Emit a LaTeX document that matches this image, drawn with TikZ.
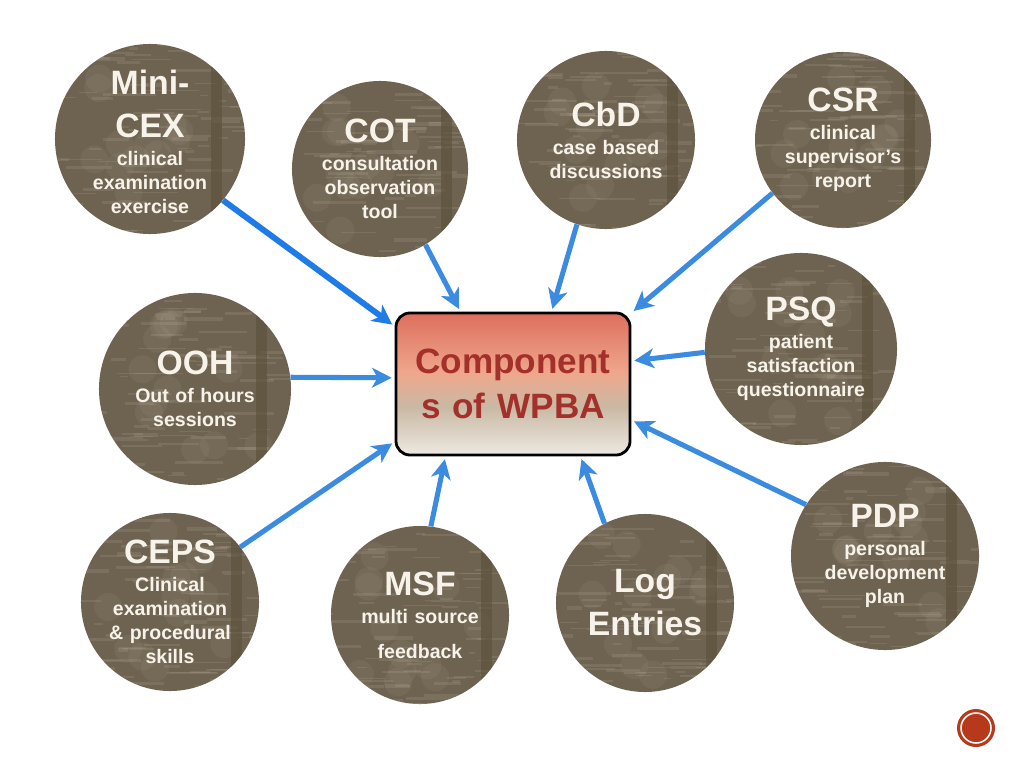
\documentclass[tikz,border=0pt]{standalone}
\usepackage{fontspec}
\setmainfont{Liberation Sans}
\usetikzlibrary{arrows.meta,calc}
\setlength\parindent{0pt}

\definecolor{discbrown}{HTML}{6E6350}
\definecolor{discdark}{HTML}{5A4F3A}
\definecolor{grit}{HTML}{D4CBB8}
\definecolor{disctext}{HTML}{F7F3EA}
\definecolor{arrowblue}{HTML}{3B8CE0}
\definecolor{arrowdeep}{HTML}{1F7BE6}
\definecolor{hubtop}{HTML}{DE6E5E}
\definecolor{hubpeach}{HTML}{EFA78C}
\definecolor{hubtan}{HTML}{C9B9A3}
\definecolor{hubbot}{HTML}{EDE9E2}
\definecolor{hubtext}{HTML}{A3302A}
\definecolor{badge}{HTML}{B5391A}

\pgfdeclareverticalshading{hubshade}{100bp}{color(0bp)=(hubbot); color(25bp)=(hubbot); color(42bp)=(hubtan); color(54bp)=(hubpeach); color(75bp)=(hubtop); color(100bp)=(hubtop)}

\newcommand\discttl{\fontsize{24}{30.6}\selectfont}
\newcommand\discsub{\fontsize{13.9}{17}\selectfont}

\tikzset{
  disc/.style={circle, fill=discbrown, inner sep=0pt, minimum size=#1,
    path picture={
      \foreach \k in {1,...,90}{
        \pgfmathsetmacro\sx{rand*2.5}
        \pgfmathsetmacro\sy{rand*2.5}
        \pgfmathsetmacro\sw{0.15+rnd*1.2}
        \pgfmathsetmacro\sh{0.02+rnd*0.07}
        \fill[grit, opacity=0.13] ([shift={(\sx cm,\sy cm)}]path picture bounding box.center) rectangle ++(\sw cm,\sh cm);
      }
      \foreach \k in {1,...,12}{
        \pgfmathsetmacro\sx{rand*1.6}
        \pgfmathsetmacro\sy{rand*1.8}
        \fill[grit, opacity=0.07] ([shift={(\sx cm,\sy cm)}]path picture bounding box.center) circle (0.35cm);
      }
      \fill[discdark, opacity=0.6] ([shift={(1.52cm,-3cm)}]path picture bounding box.center) rectangle ++(0.28cm,6cm);
    }},
  disclabel/.style={text=disctext, font=\bfseries\discsub, align=center, text width=4cm, inner sep=0pt},
  feed/.style={draw=arrowblue, line width=3.6pt, -{Stealth[length=14pt,width=14pt,inset=4pt]}, shorten >=2pt},
  hub/.style={draw=black, line width=2pt, rounded corners=0.35cm, shading=hubshade,
    minimum width=5.85cm, minimum height=3.55cm, text=hubtext, align=center, text width=5.5cm,
    font=\bfseries\fontsize{25}{32}\selectfont}
}

\begin{document}
\begin{tikzpicture}[x=0.025cm, y=-0.025cm]
	\useasboundingbox (0,0) rectangle (1024,768);
	\pgfmathsetseed{7}
	
	% centre box
	\node[hub] (box) at (513,384) {Component\par s of WPBA};
	
	% the assessment tools
	\node[disc=4.75cm] (cex) at (150,139) {};
	\node[disclabel] (cex-t) at ([yshift=-2pt]cex) {{\discttl Mini-\par CEX\par}\vspace{3pt}clinical\par examination\par exercise};
	
	\node[disc=4.4cm] (cot) at (380,169) {};
	\node[disclabel] (cot-t) at (cot) {{\discttl COT\par}\vspace{3pt}consultation\par observation\par tool};
	
	\node[disc=4.45cm] (cbd) at (606,140) {};
	\node[disclabel] (cbd-t) at (cbd) {{\discttl CbD\par}\vspace{3pt}case based\par discussions};
	
	\node[disc=4.4cm] (csr) at (843,140) {};
	\node[disclabel] (csr-t) at (csr) {{\discttl CSR\par}\vspace{3pt}clinical\par supervisor’s\par report};
	
	\node[disc=4.8cm] (psq) at (801,349) {};
	\node[disclabel] (psq-t) at (psq) {{\discttl PSQ\par}\vspace{3pt}patient\par satisfaction\par questionnaire};
	
	\node[disc=4.8cm] (ooh) at (195,389) {};
	\node[disclabel] (ooh-t) at (ooh) {{\discttl OOH\par}\vspace{3pt}Out of hours\par sessions};
	
	\node[disc=4.45cm] (ceps) at (170,602) {};
	\node[disclabel] (ceps-t) at (ceps) {{\discttl CEPS\par}\vspace{3pt}Clinical\par examination\par \& procedural\par skills};
	
	\node[disc=4.45cm] (msf) at (420,615) {};
	\node[disclabel] (msf-t) at (msf) {{\discttl MSF\par}\vspace{3pt}multi source\par\vspace{8pt}feedback};
	
	\node[disc=4.45cm] (log) at (645,603) {};
	\node[disclabel] (log-t) at (log) {{\discttl Log\par Entries\par}};
	
	\node[disc=4.7cm] (pdp) at (885,556) {};
	\node[disclabel] (pdp-t) at (pdp) {{\discttl PDP\par}\vspace{3pt}personal\par development\par plan};
	
	% arrows into the box
	\draw[feed, draw=arrowdeep, line width=4.2pt] (cex.-40) -- (box.154);
	\draw[feed] (cot.-59) -- (box.126);
	\draw[feed] (cbd.-109) -- (box.62);
	\draw[feed] (csr.217) -- (box.31);
	\draw[feed] (psq.182) -- (box.11);
	\draw[feed] (ooh.7) -- (box.177);
	\draw[feed] (ceps.38) -- (box.206);
	\draw[feed] (msf.83) -- (box.227);
	\draw[feed] (log.117) -- (box.313);
	\draw[feed] (pdp.147) -- (box.343);
	
	% badge
	\fill[badge] (976,728) circle (19);
	\draw[white, line width=1.1pt] (976,728) circle (15);
\end{tikzpicture}
\end{document}
